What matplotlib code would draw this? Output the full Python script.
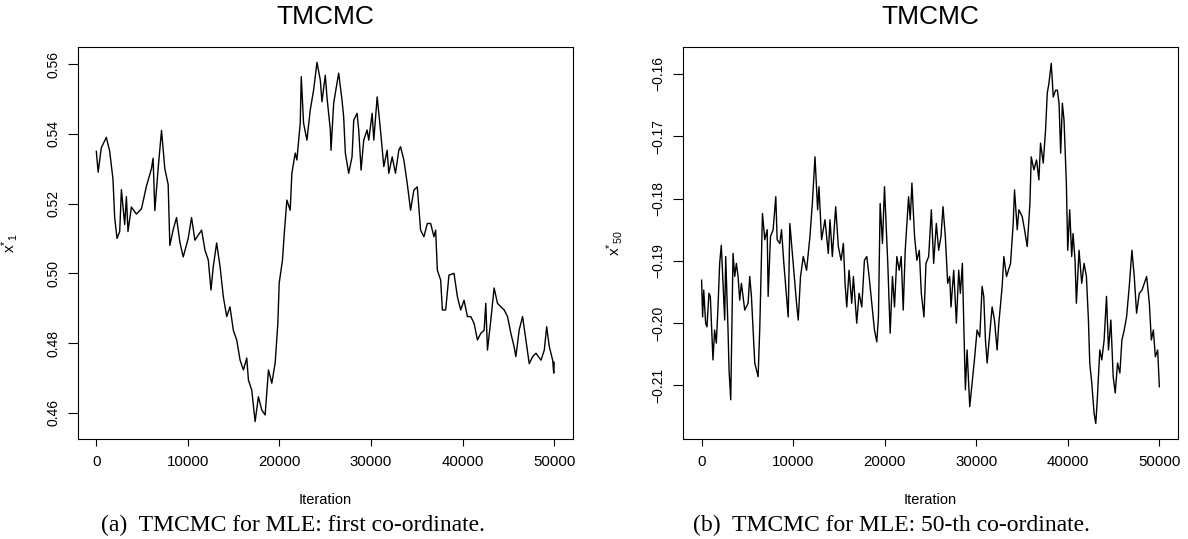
import matplotlib.pyplot as plt

plt.rcParams['font.family'] = ['Liberation Sans', 'DejaVu Sans']
plt.rcParams['mathtext.default'] = 'regular'

# trace of first co-ordinate
iter_a = [0, 200, 544, 1092, 1460, 1820, 2005, 2260, 2555, 2740, 3100, 3285, 3460, 3830,
          4380, 4930, 5475, 6020, 6200, 6390, 6750, 7120, 7480, 7845, 8030, 8390, 8760,
          9120, 9490, 10035, 10400, 10767, 11500, 11860, 12230, 12520, 12770, 13140,
          13510, 13870, 14240, 14600, 14960, 15330, 15700, 16060, 16430, 16610, 16975,
          17340, 17700, 18070, 18435, 18800, 19165, 19530, 19825, 19970, 20330, 20550,
          20810, 21170, 21355, 21720, 21900, 22270, 22380, 22630, 23000, 23360, 23725,
          24095, 24460, 24640, 25005, 25190, 25555, 25630, 25920, 26465, 26830, 27010,
          27195, 27560, 27925, 28110, 28475, 28655, 28915, 29200, 29570, 29750, 30120,
          30300, 30670, 31030, 31395, 31760, 31940, 32310, 32670, 33035, 33220, 33585,
          33950, 34320, 34680, 35050, 35410, 35775, 36145, 36510, 36870, 37055, 37240,
          37600, 37790, 38150, 38510, 39060, 39430, 39790, 40155, 40525, 40890, 41250,
          41620, 41985, 42350, 42530, 42715, 43080, 43440, 43810, 44175, 44540, 44905,
          45270, 45630, 45815, 46180, 46550, 46910, 47275, 47645, 48010, 48560, 48920,
          49180, 49465, 49835, 49950, 50000]
coord1 = [0.535, 0.529, 0.536, 0.539, 0.535, 0.527, 0.516, 0.510, 0.512, 0.524, 0.514,
          0.522, 0.512, 0.519, 0.517, 0.5185, 0.525, 0.530, 0.533, 0.518, 0.530, 0.541,
          0.530, 0.5255, 0.508, 0.5125, 0.516, 0.509, 0.5047, 0.510, 0.516, 0.5095,
          0.5124, 0.5067, 0.5038, 0.4952, 0.5019, 0.5087, 0.502, 0.4933, 0.4876, 0.4904,
          0.4837, 0.4809, 0.4751, 0.4723, 0.4757, 0.4694, 0.4665, 0.4575, 0.4646, 0.4608,
          0.4594, 0.4723, 0.4685, 0.4743, 0.4857, 0.4972, 0.5038, 0.5124, 0.5210, 0.5181,
          0.5287, 0.5345, 0.5325, 0.5431, 0.5564, 0.5431, 0.5382, 0.5468, 0.5525, 0.5605,
          0.5554, 0.5492, 0.5568, 0.5505, 0.5411, 0.5353, 0.5488, 0.5574, 0.5497, 0.5449,
          0.5345, 0.5287, 0.5334, 0.5439, 0.5459, 0.5411, 0.5296, 0.5382, 0.5411, 0.5382,
          0.5459, 0.5382, 0.5506, 0.5411, 0.5306, 0.5353, 0.5287, 0.5334, 0.5287, 0.5353,
          0.5363, 0.5325, 0.5258, 0.5181, 0.5239, 0.5248, 0.5124, 0.5105, 0.5143, 0.5143,
          0.5105, 0.5124, 0.5009, 0.4981, 0.4895, 0.4895, 0.4995, 0.5000, 0.4933, 0.4895,
          0.4923, 0.4876, 0.4876, 0.4857, 0.4809, 0.4828, 0.4837, 0.4914, 0.4780, 0.4866,
          0.4958, 0.4914, 0.4904, 0.4895, 0.4876, 0.4828, 0.4789, 0.4761, 0.4838, 0.4876,
          0.4809, 0.4741, 0.4761, 0.4771, 0.4751, 0.4780, 0.4847, 0.4790, 0.4751, 0.4714,
          0.4745]

# trace of 50-th co-ordinate
iter_b = [0, 110, 230, 440, 585, 800, 950, 1240, 1420, 1605, 1790, 1970, 2150, 2335, 2520,
          2630, 2885, 2995, 3180, 3430, 3615, 3795, 3980, 4160, 4345, 4710, 5075, 5255,
          5440, 5805, 6170, 6355, 6645, 6900, 7160, 7265, 7520, 7810, 8100, 8250, 8540,
          8725, 8980, 9270, 9455, 9635, 10000, 10365, 10550, 10800, 11100, 11460, 11830,
          12090, 12380, 12670, 12815, 13100, 13470, 13835, 14020, 14275, 14640, 14930,
          15230, 15480, 15665, 15850, 16100, 16395, 16575, 16940, 17195, 17490, 17780,
          18035, 18290, 18580, 18875, 19130, 19310, 19495, 19750, 19970, 20115, 20330,
          20590, 20840, 21065, 21320, 21575, 21795, 22015, 22235, 22600, 22780, 22965,
          23255, 23510, 23770, 23990, 24280, 24500, 24795, 25085, 25340, 25630, 25885,
          26140, 26360, 26615, 26870, 27090, 27235, 27530, 27820, 28075, 28255, 28475,
          28625, 28805, 28990, 29280, 29535, 29790, 30080, 30375, 30630, 30810, 30995,
          31180, 31470, 31725, 31980, 32270, 32455, 32820, 33005, 33295, 33735, 34025,
          34170, 34465, 34645, 35010, 35265, 35555, 35850, 35995, 36285, 36575, 36830,
          37010, 37305, 37560, 37745, 37925, 38180, 38400, 38655, 38850, 39030, 39210,
          39395, 39575, 39830, 39980, 40195, 40415, 40560, 40780, 40925, 41215, 41510,
          41765, 42020, 42240, 42385, 42605, 42860, 43045, 43225, 43480, 43700, 43955,
          44215, 44430, 44690, 44945, 45165, 45420, 45675, 45895, 46150, 46405, 46700,
          46990, 47245, 47500, 47795, 48085, 48340, 48600, 48890, 49110, 49330, 49550,
          49800, 49985]
coord50 = [-0.1931, -0.1990, -0.1947, -0.2000, -0.2006, -0.1952, -0.1957, -0.2059, -0.2011,
           -0.2032, -0.1974, -0.1904, -0.1875, -0.1936, -0.1995, -0.1893, -0.2011, -0.2075,
           -0.2123, -0.1888, -0.1925, -0.1904, -0.1925, -0.1963, -0.1936, -0.1979, -0.1968,
           -0.1925, -0.1957, -0.2064, -0.2086, -0.2006, -0.1824, -0.1866, -0.1850, -0.1957,
           -0.1861, -0.1850, -0.1797, -0.1866, -0.1872, -0.1850, -0.1904, -0.1957, -0.1990,
           -0.1840, -0.1904, -0.1968, -0.1995, -0.1925, -0.1893, -0.1915, -0.1861, -0.1808,
           -0.1733, -0.1818, -0.1781, -0.1866, -0.1834, -0.1888, -0.1834, -0.1893, -0.1813,
           -0.1877, -0.1899, -0.1872, -0.1936, -0.1974, -0.1915, -0.1968, -0.1925, -0.2000,
           -0.1952, -0.1974, -0.1899, -0.1893, -0.1925, -0.1968, -0.2011, -0.2030, -0.1990,
           -0.1808, -0.1872, -0.1781, -0.1829, -0.1904, -0.2016, -0.1925, -0.1974, -0.1893,
           -0.1915, -0.1893, -0.1979, -0.1883, -0.1797, -0.1834, -0.1775, -0.1861, -0.1899,
           -0.1883, -0.1952, -0.1990, -0.1904, -0.1893, -0.1818, -0.1904, -0.1840, -0.1883,
           -0.1861, -0.1813, -0.1861, -0.1936, -0.1925, -0.1974, -0.1915, -0.2000, -0.1915,
           -0.1952, -0.1904, -0.2000, -0.2107, -0.2043, -0.2134, -0.2096, -0.2059, -0.2011,
           -0.2022, -0.1941, -0.1957, -0.2027, -0.2064, -0.2016, -0.1974, -0.1995, -0.2043,
           -0.2000, -0.1941, -0.1893, -0.1925, -0.1904, -0.1840, -0.1786, -0.1850, -0.1818,
           -0.1829, -0.1850, -0.1877, -0.1808, -0.1733, -0.1754, -0.1738, -0.1770, -0.1711,
           -0.1743, -0.1690, -0.1631, -0.1615, -0.1583, -0.1637, -0.1626, -0.1626, -0.1647,
           -0.1727, -0.1647, -0.1674, -0.1775, -0.1883, -0.1818, -0.1893, -0.1856, -0.1899,
           -0.1968, -0.1883, -0.1936, -0.1904, -0.1925, -0.1995, -0.2064, -0.2096, -0.2145,
           -0.2161, -0.2118, -0.2043, -0.2059, -0.2027, -0.1957, -0.2043, -0.1995, -0.2086,
           -0.2112, -0.2064, -0.2080, -0.2027, -0.2011, -0.1990, -0.1941, -0.1883, -0.1925,
           -0.1984, -0.1952, -0.1947, -0.1936, -0.1925, -0.1968, -0.2027, -0.2011, -0.2054,
           -0.2043, -0.2102]

xticks = [0, 10000, 20000, 30000, 40000, 50000]
yticks_a = [0.46, 0.48, 0.50, 0.52, 0.54, 0.56]
yticks_b = [-0.21, -0.20, -0.19, -0.18, -0.17, -0.16]

W, H = 1188, 539
fig = plt.figure(figsize=(W / 100, H / 100), dpi=100)


def trace_panel(left, x, y, yticks, ylim, ylabel):
    ax = fig.add_axes([left / W, (H - 439) / H, 494.5 / W, 392 / H])
    ax.plot(x, y, color='black', linewidth=1.0)
    ax.set_xlim(-2000, 52000)
    ax.set_ylim(*ylim)
    ax.set_xticks(xticks)
    ax.set_yticks(yticks)
    ax.set_yticklabels([('%.2f' % v).replace('-', '\u2212') for v in yticks])
    for s in ax.spines.values():
        s.set_linewidth(0.8)
    ax.tick_params(axis='x', direction='out', length=5.3, width=0.8, pad=6, labelsize=10.8)
    ax.tick_params(axis='y', direction='out', length=7.2, width=0.8, pad=5.5, labelsize=10,
                   labelrotation=90)
    for lab in ax.get_yticklabels():
        lab.set_va('center')
    ax.set_xlabel('Iteration', fontsize=10.5)
    ax.xaxis.set_label_coords(0.5, -0.138)
    ax.set_ylabel(ylabel, fontsize=11)
    ax.yaxis.set_label_coords(-0.118, 0.5)
    ax.text(0.5, 1.0765, 'TMCMC', transform=ax.transAxes, ha='center', va='center',
            fontsize=19)
    return ax


trace_panel(78, iter_a, coord1, yticks_a, (0.4525, 0.5649), r'$x^{*}{}_{1}$')
trace_panel(683.3, iter_b, coord50, yticks_b, (-0.21859, -0.15567), r'$x^{*}{}_{50}$')

fig.text(293 / W, 1 - 525 / H, '(a)  TMCMC for MLE: first co-ordinate.',
         family='Liberation Serif', fontsize=17, ha='center', va='center')
fig.text(891 / W, 1 - 525 / H, '(b)  TMCMC for MLE: 50-th co-ordinate.',
         family='Liberation Serif', fontsize=17, ha='center', va='center')

fig.savefig('out.png', dpi=100)
